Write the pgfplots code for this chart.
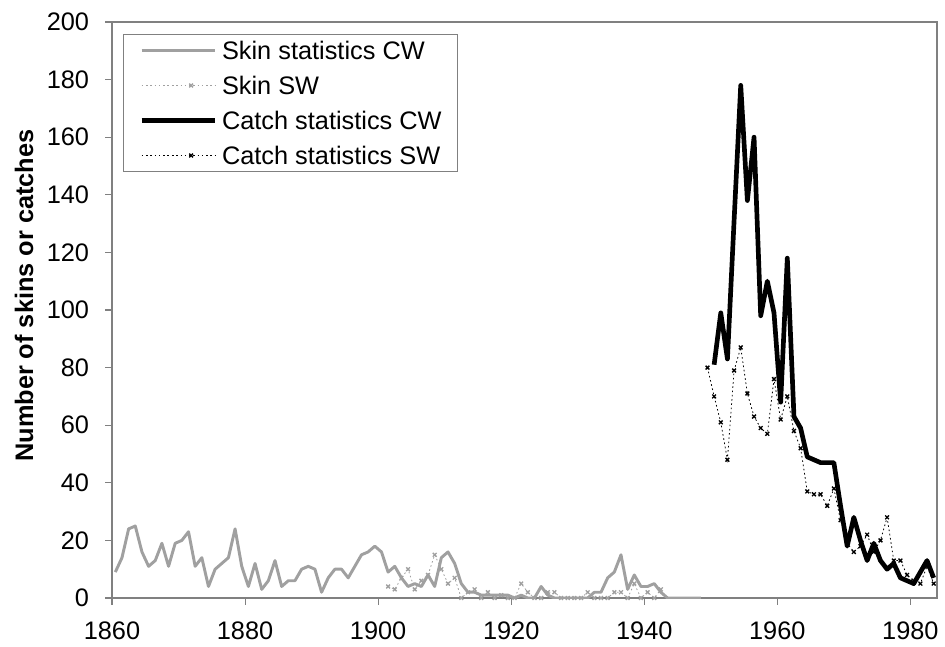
\documentclass[border=0pt]{standalone}
\usepackage{fontspec}
\setmainfont{Liberation Sans}
\usepackage{pgfplots}
\usepackage{pgfplotstable}
\pgfplotsset{compat=1.18}
\definecolor{skingray}{RGB}{160,160,160}
\definecolor{framegray}{RGB}{128,128,128}

\pgfplotstableread{
year val
1860 9
1861 14
1862 24
1863 25
1864 16
1865 11
1866 13
1867 19
1868 11
1869 19
1870 20
1871 23
1872 11
1873 14
1874 4
1875 10
1876 12
1877 14
1878 24
1879 11
1880 4
1881 12
1882 3
1883 6
1884 13
1885 4
1886 6
1887 6
1888 10
1889 11
1890 10
1891 2
1892 7
1893 10
1894 10
1895 7
1896 11
1897 15
1898 16
1899 18
1900 16
1901 9
1902 11
1903 7
1904 4
1905 5
1906 4
1907 8
1908 4
1909 14
1910 16
1911 12
1912 5
1913 2
1914 2
1915 1
1916 1
1917 1
1918 1
1919 1
1920 0
1921 1
1922 0
1923 0
1924 4
1925 1
1926 0
1927 0
1928 0
1929 0
1930 0
1931 0
1932 2
1933 2
1934 7
1935 9
1936 15
1937 3
1938 8
1939 4
1940 4
1941 5
1942 2
1943 0
1944 0
1945 0
1946 0
1947 0
1948 0
}\skincw

\pgfplotstableread{
year val
1901 4
1902 3
1903 7
1904 10
1905 3
1906 6
1907 8
1908 15
1909 10
1910 5
1911 7
1912 0
1913 2
1914 3
1915 0
1916 2
1917 0
1918 1
1919 0
1920 0
1921 5
1922 2
1923 0
1924 0
1925 2
1926 2
1927 0
1928 0
1929 0
1930 0
1931 2
1932 0
1933 0
1934 0
1935 2
1936 2
1937 0
1938 5
1939 0
1940 2
1941 0
1942 3
}\skinsw

\pgfplotstableread{
year val
1950 81
1951 99
1952 83
1953 131
1954 178
1955 138
1956 160
1957 98
1958 110
1959 99
1960 68
1961 118
1962 63
1963 59
1964 49
1965 48
1966 47
1967 47
1968 47
1969 32
1970 18
1971 28
1972 20
1973 13
1974 19
1975 13
1976 10
1977 12
1978 7
1979 6
1980 5
1981 9
1982 13
1983 7
}\catchcw

\pgfplotstableread{
year val
1949 80
1950 70
1951 61
1952 48
1953 79
1954 87
1955 71
1956 63
1957 59
1958 57
1959 76
1960 62
1961 70
1962 58
1963 52
1964 37
1965 36
1966 36
1967 32
1968 38
1969 27
1970 19
1971 16
1972 18
1973 22
1974 16
1975 20
1976 28
1977 13
1978 13
1979 8
1980 6
1981 5
1982 11
1983 5
}\catchsw

\begin{document}
\begin{tikzpicture}
\path (0,0) rectangle (708.75pt,484.5pt);
\begin{axis}[
  at={(84pt,36pt)}, anchor=south west,
  scale only axis, width=618.75pt, height=432pt,
  xmin=1859.5, xmax=1983.5, ymin=0, ymax=200,
  xtick={1859.5,1879.5,1899.5,1919.5,1939.5,1959.5,1979.5},
  xticklabels={1860,1880,1900,1920,1940,1960,1980},
  ytick={0,20,...,200},
  tick align=outside, tick pos=left,
  major tick length=5pt,
  axis line style={framegray, line width=0.8pt},
  every tick/.style={framegray, line width=0.8pt},
  tick label style={font=\fontsize{19}{22}\selectfont, black, inner sep=0pt},
  xticklabel shift=12.5pt,
  yticklabel shift=12pt,
  /pgf/number format/assume math mode=true,
  /pgf/number format/1000 sep={},
  ylabel={Number of skins or catches},
  ylabel style={font=\fontsize{19}{22}\selectfont\bfseries, at={(axis description cs:-0.1067,0.525)}, anchor=center},
  legend style={at={(rel axis cs:0.0133,0.979)}, anchor=north west,
    draw=framegray, line width=0.6pt, font=\fontsize{19}{22}\selectfont,
    inner xsep=12pt, inner ysep=3.5pt, row sep=9.25pt, column sep=0pt,
    nodes={inner sep=0pt, text height=15pt, text depth=2pt},
    /tikz/every odd column/.append style={column sep=3.75pt}},
  legend cell align=left,
  legend image code/.code={\path (-19.5pt,0) -- (0,0); \draw[mark repeat=2,mark phase=2] plot coordinates {(0pt,0pt) (17.6pt,0pt) (35.25pt,0pt)};},
]
\addplot[skingray, line width=2.2pt, line join=round] table[x=year,y=val] {\skincw};
\addlegendentry{Skin statistics CW}
\addplot[skingray, line width=0.6pt, dash pattern=on 1.2pt off 2pt, mark=x, mark size=2pt, mark options={solid, line width=1pt}] table[x=year,y=val] {\skinsw};
\addlegendentry{Skin SW}
\addplot[black, line width=3.5pt, line join=round] table[x=year,y=val] {\catchcw};
\addlegendentry{Catch statistics CW}
\addplot[black, line width=0.6pt, dash pattern=on 1.2pt off 2pt, mark=x, mark size=2pt, mark options={solid, line width=1pt}] table[x=year,y=val] {\catchsw};
\addlegendentry{Catch statistics SW}
\end{axis}
\end{tikzpicture}
\end{document}
